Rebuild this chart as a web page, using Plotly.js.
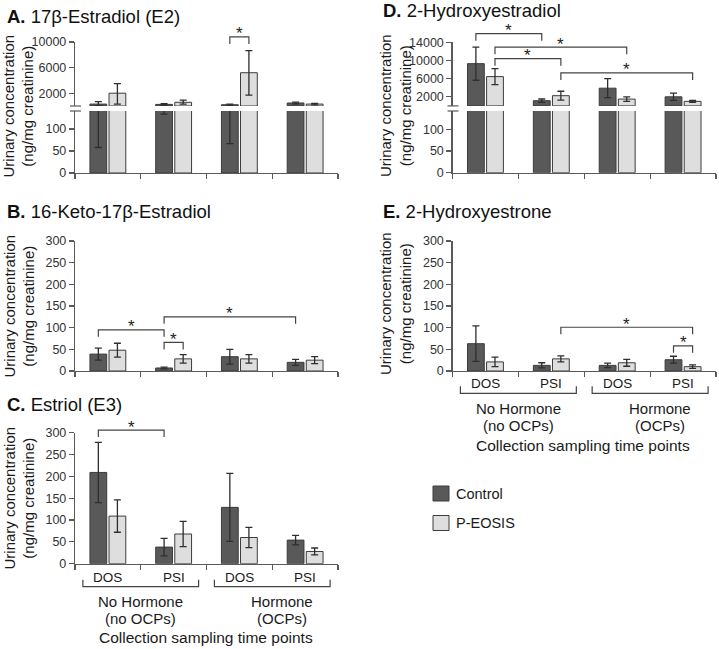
<!DOCTYPE html>
<html>
<head>
<meta charset="utf-8">
<script src="https://cdn.plot.ly/plotly-3.0.1.min.js"></script>
<style>html,body{margin:0;padding:0;background:#fff;}#chart{width:719px;height:649px;}</style>
</head>
<body>
<div id="chart"></div>
<script>
// ---------------- DATA ----------------
const seriesNames = ['Control', 'P-EOSIS'];
const timePoints = ['DOS', 'PSI', 'DOS', 'PSI'];
const hormoneGroups = [['No Hormone', '(no OCPs)'], ['Hormone', '(OCPs)']];
const xAxisTitle = 'Collection sampling time points';
const yAxisTitle = 'Urinary concentration<br>(ng/mg creatinine)';

// A. 17β-Estradiol (E2)
const e2Control = [300, 250, 200, 470];
const e2ControlErrPlus = [370, 110, 100, 150];
const e2ControlErrMinus = [242, 116, 133, 150];
const e2Peosis = [2000, 580, 5200, 300];
const e2PeosisErrPlus = [1500, 350, 3450, 120];
const e2PeosisErrMinus = [1700, 300, 3500, 120];

// B. 16-Keto-17β-Estradiol
const ketoControl = [39, 7, 33, 20];
const ketoControlErr = [14, 2, 17, 7];
const ketoPeosis = [48, 28, 28, 25];
const ketoPeosisErr = [16, 10, 10, 8];

// C. Estriol (E3)
const e3Control = [209, 38, 129, 54];
const e3ControlErr = [69, 20, 78, 11];
const e3Peosis = [109, 68, 60, 28];
const e3PeosisErr = [37, 29, 23, 8];

// D. 2-Hydroxyestradiol
const oh2e2Control = [9300, 1150, 3900, 2000];
const oh2e2ControlErr = [3650, 370, 2100, 800];
const oh2e2Peosis = [6450, 2250, 1500, 1000];
const oh2e2PeosisErr = [1750, 980, 500, 200];

// E. 2-Hydroxyestrone
const oh2e1Control = [63, 13, 13, 26];
const oh2e1ControlErr = [41, 6, 5, 8];
const oh2e1Peosis = [21, 28, 19, 10];
const oh2e1PeosisErr = [11, 7, 8, 4];

// significance brackets: [group, series] -> [group, series], level in data units
const sigA = [{from: [2, 0], to: [2, 1], level: 10800}];
const sigB = [{from: [0, 0], to: [1, 0], level: 95}, {from: [1, 0], to: [1, 1], level: 66}, {from: [1, 0], to: [3, 0], level: 125}];
const sigC = [{from: [0, 0], to: [1, 0], level: 306}];
const sigD = [{from: [0, 0], to: [1, 0], level: 15900}, {from: [0, 1], to: [2, 1], level: 12930}, {from: [0, 1], to: [1, 1], level: 10390}, {from: [1, 1], to: [3, 1], level: 7250}];
const sigE = [{from: [1, 1], to: [3, 1], level: 101}, {from: [3, 0], to: [3, 1], level: 58}];

// ---------------- LAYOUT ----------------
const W = 719, H = 649;
const X = p => p / W;
const Y = p => 1 - p / H;
const FONT = 'Liberation Sans, Arial, Helvetica, sans-serif';
const AXC = '#5a5a5a';
const colors = ['#595959', '#dedede'];
const idx = timePoints.map((_, i) => i);

const xBase = {range: [-0.5, 3.5], tickmode: 'array', tickvals: [-0.5, 0.5, 1.5, 2.5, 3.5], showticklabels: false,
  ticks: 'outside', ticklen: 5, tickwidth: 1.2, tickcolor: AXC, showline: true, linecolor: AXC, linewidth: 1.2,
  showgrid: false, zeroline: false, fixedrange: true};
const yBase = {ticks: 'outside', ticklen: 5, tickwidth: 1.2, tickcolor: AXC, showline: true, linecolor: AXC, linewidth: 1.2,
  showgrid: false, zeroline: false, fixedrange: true, tickfont: {family: FONT, size: 12.5, color: '#333'}, tickformat: 'd'};

const layout = {
  width: W, height: H, margin: {l: 0, r: 0, t: 0, b: 0},
  paper_bgcolor: '#fff', plot_bgcolor: 'rgba(0,0,0,0)',
  barmode: 'group', bargap: 0.42, bargroupgap: 0.12, showlegend: false,
  font: {family: FONT, color: '#1a1a1a'},
  xaxis:  Object.assign({}, xBase, {domain: [X(75), X(338)], anchor: 'y'}),
  yaxis:  Object.assign({}, yBase, {domain: [Y(173), Y(111)], range: [0, 141], tickmode: 'array', tickvals: [0, 50, 100], anchor: 'x'}),
  yaxis2: Object.assign({}, yBase, {domain: [Y(106), Y(42)], range: [0, 10000], tickmode: 'array', tickvals: [2000, 6000, 10000], anchor: 'x'}),
  xaxis2: Object.assign({}, xBase, {domain: [X(75), X(338)], anchor: 'y3'}),
  yaxis3: Object.assign({}, yBase, {domain: [Y(371), Y(241)], range: [0, 300], tickmode: 'linear', tick0: 0, dtick: 50, anchor: 'x2'}),
  xaxis3: Object.assign({}, xBase, {domain: [X(75), X(338)], anchor: 'y4'}),
  yaxis4: Object.assign({}, yBase, {domain: [Y(563.7), Y(432.7)], range: [0, 300], tickmode: 'linear', tick0: 0, dtick: 50, anchor: 'x3'}),
  xaxis4: Object.assign({}, xBase, {domain: [X(452.5), X(716)], anchor: 'y5'}),
  yaxis5: Object.assign({}, yBase, {domain: [Y(172.7), Y(111)], range: [0, 142], tickmode: 'array', tickvals: [0, 50, 100], anchor: 'x4'}),
  yaxis6: Object.assign({}, yBase, {domain: [Y(105.9), Y(42.3)], range: [0, 14000], tickmode: 'array', tickvals: [2000, 6000, 10000, 14000], anchor: 'x4'}),
  xaxis5: Object.assign({}, xBase, {domain: [X(452.5), X(716)], anchor: 'y7'}),
  yaxis7: Object.assign({}, yBase, {domain: [Y(371), Y(241)], range: [0, 300], tickmode: 'linear', tick0: 0, dtick: 50, anchor: 'x5'}),
  shapes: [], annotations: []
};

// ---------------- TRACES ----------------
function bar(xa, ya, s, vals, plus, minus) {
  return {
    type: 'bar', name: seriesNames[s], x: idx, y: vals, xaxis: xa, yaxis: ya,
    marker: {color: colors[s], line: {color: '#3c3c3c', width: 1}},
    error_y: {type: 'data', symmetric: false, array: plus, arrayminus: minus, color: '#2e2e2e', thickness: 1.3, width: 3.5},
    hoverinfo: 'skip'
  };
}
const data = [
  bar('x', 'y', 0, e2Control, e2ControlErrPlus, e2ControlErrMinus),
  bar('x', 'y', 1, e2Peosis, e2PeosisErrPlus, e2PeosisErrMinus),
  bar('x', 'y2', 0, e2Control, e2ControlErrPlus, e2ControlErrMinus),
  bar('x', 'y2', 1, e2Peosis, e2PeosisErrPlus, e2PeosisErrMinus),
  bar('x2', 'y3', 0, ketoControl, ketoControlErr, ketoControlErr),
  bar('x2', 'y3', 1, ketoPeosis, ketoPeosisErr, ketoPeosisErr),
  bar('x3', 'y4', 0, e3Control, e3ControlErr, e3ControlErr),
  bar('x3', 'y4', 1, e3Peosis, e3PeosisErr, e3PeosisErr),
  bar('x4', 'y5', 0, oh2e2Control, oh2e2ControlErr, oh2e2ControlErr),
  bar('x4', 'y5', 1, oh2e2Peosis, oh2e2PeosisErr, oh2e2PeosisErr),
  bar('x4', 'y6', 0, oh2e2Control, oh2e2ControlErr, oh2e2ControlErr),
  bar('x4', 'y6', 1, oh2e2Peosis, oh2e2PeosisErr, oh2e2PeosisErr),
  bar('x5', 'y7', 0, oh2e1Control, oh2e1ControlErr, oh2e1ControlErr),
  bar('x5', 'y7', 1, oh2e1Peosis, oh2e1PeosisErr, oh2e1PeosisErr)
];

// ---------------- helpers: data -> paper ----------------
const axKey = id => id.replace('x', 'xaxis').replace('y', 'yaxis');
function toPaper(id, v) {
  const a = layout[axKey(id)];
  return a.domain[0] + (v - a.range[0]) / (a.range[1] - a.range[0]) * (a.domain[1] - a.domain[0]);
}
const half = (1 - layout.bargap) / 4;
const barCenter = (g, s) => g + (s === 0 ? -half : half);

const LINE = {color: '#444', width: 1.2};
function addSig(xa, ya, list) {
  list.forEach(b => {
    const x1 = toPaper(xa, barCenter(b.from[0], b.from[1]));
    const x2 = toPaper(xa, barCenter(b.to[0], b.to[1]));
    const yb = toPaper(ya, b.level);
    const d = 7 / H;
    layout.shapes.push({type: 'path', xref: 'paper', yref: 'paper', line: LINE,
      path: `M${x1},${yb - d} L${x1},${yb} L${x2},${yb} L${x2},${yb - d}`});
    layout.annotations.push({xref: 'paper', yref: 'paper', x: (x1 + x2) / 2, y: yb, text: '*', showarrow: false,
      xanchor: 'center', yanchor: 'bottom', yshift: -7.5, borderpad: 0, font: {family: FONT, size: 17, color: '#222'}});
  });
}
addSig('x', 'y2', sigA);
addSig('x2', 'y3', sigB);
addSig('x3', 'y4', sigC);
addSig('x4', 'y6', sigD);
addSig('x5', 'y7', sigE);

// axis break marks
function addBreak(xa, yUp, yLo) {
  const x0 = layout[axKey(xa)].domain[0];
  [layout[axKey(yUp)].domain[0], layout[axKey(yLo)].domain[1]].forEach(yy => {
    layout.shapes.push({type: 'line', xref: 'paper', yref: 'paper', x0: x0 - 5 / W, x1: x0 + 6 / W, y0: yy, y1: yy,
      line: {color: AXC, width: 1.2}});
  });
}
addBreak('x', 'y2', 'y');
addBreak('x4', 'y6', 'y5');

// panel titles
function title(letter, txt, xpx, ypx) {
  layout.annotations.push({xref: 'paper', yref: 'paper', x: X(xpx), y: Y(ypx), xanchor: 'left', yanchor: 'middle', borderpad: 0,
    text: `<b>${letter}.</b> ${txt}`, showarrow: false, font: {family: FONT, size: 18.5, color: '#111'}});
}
title('A', '17β-Estradiol (E2)', 6, 17);
title('B', '16-Keto-17β-Estradiol', 6, 212);
title('C', 'Estriol (E3)', 6, 404.5);
title('D', '2-Hydroxyestradiol', 382, 10.5);
title('E', '2-Hydroxyestrone', 382, 211.5);

// y axis titles
function ytitle(xpx, ypx) {
  layout.annotations.push({xref: 'paper', yref: 'paper', x: X(xpx), y: Y(ypx), xanchor: 'center', yanchor: 'middle',
    text: yAxisTitle, textangle: -90, showarrow: false, font: {family: FONT, size: 15, color: '#1a1a1a'}});
}
ytitle(18.5, 106);
ytitle(18.5, 306);
ytitle(18.5, 498);
ytitle(396, 106);
ytitle(396, 304);

// category labels + group brackets
function xlabels(xa, labY, brY, h1Y, h2Y, tY) {
  timePoints.forEach((t, i) => {
    layout.annotations.push({xref: xa, yref: 'paper', x: i, y: Y(labY), text: t, showarrow: false,
      xanchor: 'center', yanchor: 'middle', font: {family: FONT, size: 13.5, color: '#1a1a1a'}});
  });
  hormoneGroups.forEach((g, k) => {
    const c = 2 * k + 0.5;
    const x1 = toPaper(xa, c - 0.88), x2 = toPaper(xa, c + 0.88);
    const yb = Y(brY), d = 7 / H;
    layout.shapes.push({type: 'path', xref: 'paper', yref: 'paper', line: LINE,
      path: `M${x1},${yb + d} L${x1},${yb} L${x2},${yb} L${x2},${yb + d}`});
    const shift = k === 1 ? 10 : 0;
    layout.annotations.push({xref: xa, yref: 'paper', x: c, y: Y(h1Y), xshift: shift, text: g[0], showarrow: false,
      xanchor: 'center', yanchor: 'middle', font: {family: FONT, size: 15, color: '#1a1a1a'}});
    layout.annotations.push({xref: xa, yref: 'paper', x: c, y: Y(h2Y), xshift: shift, text: g[1], showarrow: false,
      xanchor: 'center', yanchor: 'middle', font: {family: FONT, size: 15, color: '#1a1a1a'}});
  });
  layout.annotations.push({xref: xa, yref: 'paper', x: 1.5, y: Y(tY), xshift: -1, text: xAxisTitle, showarrow: false,
    xanchor: 'center', yanchor: 'middle', font: {family: FONT, size: 15.5, color: '#1a1a1a'}});
}
xlabels('x3', 577.5, 586.7, 601, 618, 637.5);
xlabels('x5', 383.5, 393.3, 408, 425.5, 445.5);

// legend (manual)
seriesNames.forEach((n, s) => {
  const top = 486 + s * 29.5;
  layout.shapes.push({type: 'rect', xref: 'paper', yref: 'paper', x0: X(433), x1: X(449), y0: Y(top + 15), y1: Y(top),
    fillcolor: colors[s], line: {color: '#3c3c3c', width: 1}});
  layout.annotations.push({xref: 'paper', yref: 'paper', x: X(454), y: Y(top + 7.5), text: n, showarrow: false,
    xanchor: 'left', yanchor: 'middle', font: {family: FONT, size: 14.5, color: '#1a1a1a'}});
});

Plotly.newPlot('chart', data, layout, {staticPlot: true, displayModeBar: false});
</script>
</body>
</html>
